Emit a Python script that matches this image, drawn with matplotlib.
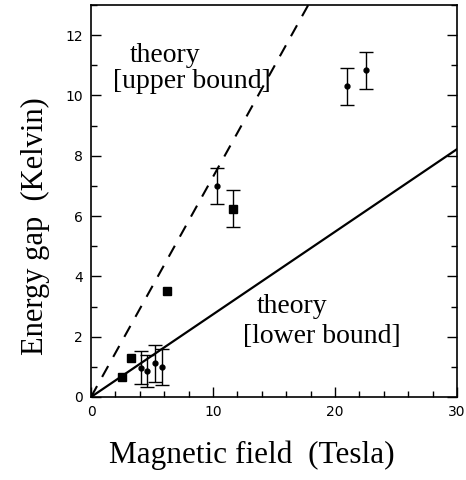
import matplotlib
matplotlib.use("Agg")
import matplotlib.pyplot as plt
from matplotlib.ticker import MultipleLocator
import numpy as np

# squares without error bars
sq_field = [2.57, 3.25, 6.2]
sq_gap = [0.65, 1.3, 3.52]

# square with error bar
sqe_field = [11.62]
sqe_gap = [6.25]
sqe_err = [0.6]

# dots with error bars
dot_field = [4.07, 4.62, 5.25, 5.85, 10.35, 21.0, 22.57]
dot_gap = [0.97, 0.85, 1.12, 1.0, 7.0, 10.3, 10.83]
dot_err = [0.55, 0.53, 0.62, 0.6, 0.6, 0.61, 0.6]

# theory slopes (K per T)
upper_slope = 0.73
lower_slope = 0.274

SERIF = "Liberation Serif"

fig = plt.figure(figsize=(4.66, 4.80), dpi=100)
ax = fig.add_axes([91 / 466, 1 - 397 / 480, 366 / 466, 392 / 480])

B = np.array([0.0, 30.0])
ax.plot(B, upper_slope * B, color="black", lw=1.5, dashes=(6, 5))
ax.plot(B, lower_slope * B, color="black", lw=1.6)

ax.plot(sq_field, sq_gap, ls="none", marker="s", ms=5.5, color="black")
ax.errorbar(sqe_field, sqe_gap, yerr=sqe_err, fmt="s", ms=5.5, color="black",
            ecolor="black", elinewidth=1.0, capsize=5, capthick=1.0)
ax.errorbar(dot_field, dot_gap, yerr=dot_err, fmt="o", ms=3.5, color="black",
            ecolor="black", elinewidth=1.0, capsize=5, capthick=1.0)

# annotations
ax.text(3.2, 11.12, "theory", family=SERIF, fontsize=20, ha="left", va="baseline")
ax.text(1.83, 10.24, "[upper bound]", family=SERIF, fontsize=20, ha="left", va="baseline")
ax.text(13.58, 2.78, "theory", family=SERIF, fontsize=20, ha="left", va="baseline")
ax.text(12.48, 1.78, "[lower bound]", family=SERIF, fontsize=20, ha="left", va="baseline")

ax.set_xlim(0, 30)
ax.set_ylim(0, 13)
ax.xaxis.set_major_locator(MultipleLocator(10))
ax.xaxis.set_minor_locator(MultipleLocator(2))
ax.yaxis.set_major_locator(MultipleLocator(2))
ax.yaxis.set_minor_locator(MultipleLocator(1))
ax.tick_params(which="both", direction="in", right=True, top=False,
               labelsize=10, width=1.0)
ax.tick_params(which="major", length=7, pad=6)
ax.tick_params(which="minor", length=4)
for lab in ax.get_xticklabels() + ax.get_yticklabels():
    lab.set_family("DejaVu Sans")
for sp in ax.spines.values():
    sp.set_linewidth(1.2)

fig.text(252 / 466, 1 - 463 / 480, "Magnetic field  (Tesla)", family=SERIF,
         fontsize=22.5, ha="center", va="baseline")
fig.text(35 / 466, 1 - 226 / 480, "Energy gap  (Kelvin)", family=SERIF,
         fontsize=22, rotation=90, ha="center", va="center")

fig.savefig("out.png", dpi=100)
